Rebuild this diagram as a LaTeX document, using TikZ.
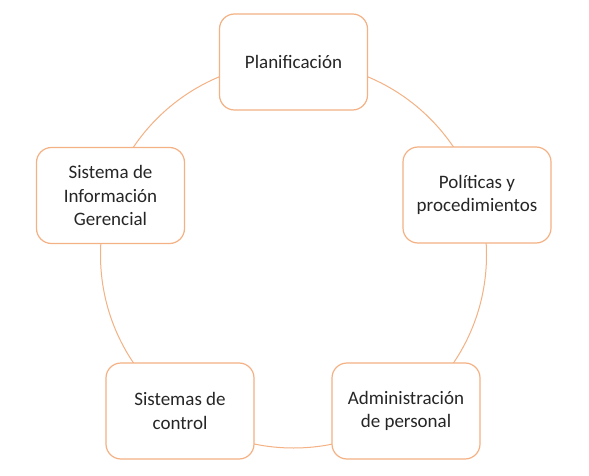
\documentclass[tikz,border=0pt]{standalone}
\usepackage{fontspec}
\setmainfont{Carlito}
\definecolor{ring}{RGB}{244,177,131}
\begin{document}
\begin{tikzpicture}[x=1pt,y=-1pt]
\tikzset{
  cyclebox/.style={draw=ring, line width=1.2pt, fill=white, rounded corners=15pt,
    minimum width=148pt, minimum height=96pt, align=center, inner sep=2pt,
    font=\fontsize{19}{23.2}\selectfont, text=black!85},
}
\useasboundingbox (0,0) rectangle (589,476);
\fill[white] (0,0) rectangle (589,476);
\coordinate (c) at (293.5,255);
\draw[ring, line width=1pt] (c) circle[radius=193pt];
\node[cyclebox] (p) at (293.5,62) {Planificación};
\node[cyclebox] (pol) at (477,195) {Políticas y\\procedimientos};
\node[cyclebox] (adm) at (406,411) {Administración\\de personal};
\node[cyclebox] (ctl) at (180,411) {Sistemas de\\control};
\node[cyclebox] (sig) at (110.5,195.5) {Sistema de\\Información\\Gerencial};
\end{tikzpicture}
\end{document}
